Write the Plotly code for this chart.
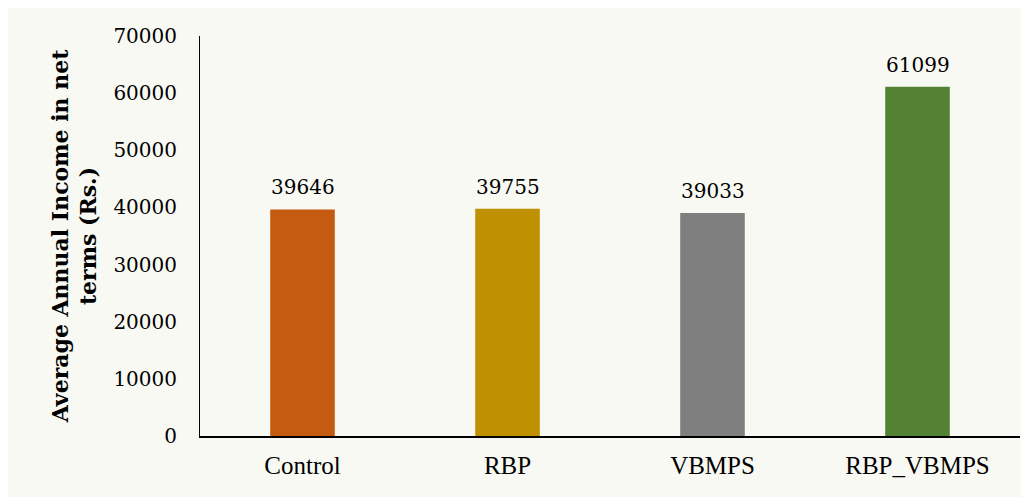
import plotly.graph_objects as go

categories = ["Control", "RBP", "VBMPS", "RBP_VBMPS"]
values = [39646, 39755, 39033, 61099]
colors = ["#C55A11", "#BF9000", "#7F7F7F", "#548235"]
y_ticks = [0, 10000, 20000, 30000, 40000, 50000, 60000, 70000]

num_font = dict(family="DejaVu Serif", size=20, color="#000000")

fig = go.Figure()
fig.add_trace(go.Bar(
    x=categories, y=values, marker=dict(color=colors, line=dict(width=0)),
    width=0.315, showlegend=False, hoverinfo="x+y",
))

for c, v in zip(categories, values):
    fig.add_annotation(x=c, y=v, text=str(v), showarrow=False,
                       yanchor="bottom", yshift=8, font=num_font)

fig.update_layout(
    width=1021, height=489,
    margin=dict(l=192, r=9, t=28, b=61, autoexpand=False),
    paper_bgcolor="#F9F9F4", plot_bgcolor="#F9F9F4",
    bargap=0.685,
    xaxis=dict(
        showgrid=False, showline=True, linecolor="#000000", linewidth=1.5,
        ticks="", tickfont=dict(family="Liberation Serif", size=25, color="#000000"),
        ticklabelstandoff=6, automargin=False,
    ),
    yaxis=dict(
        range=[0, 70000], tickvals=y_ticks, ticktext=[str(t) for t in y_ticks],
        showgrid=False, zeroline=False, showline=True, linecolor="#000000", linewidth=1,
        ticks="", tickfont=dict(family="DejaVu Serif", size=20, color="#000000"),
        ticklabelstandoff=18, automargin=False,
        title=dict(text="Average Annual Income in net<br>terms (Rs.)",
                   font=dict(family="DejaVu Serif", size=22, color="#000000", weight="bold"),
                   standoff=10),
    ),
)

fig.write_html("out.html")
